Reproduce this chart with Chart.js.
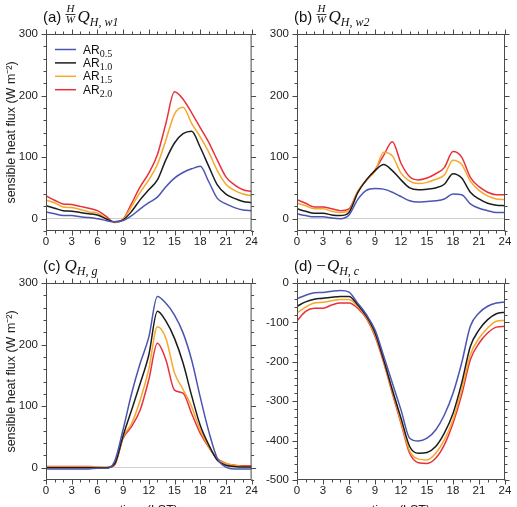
<!DOCTYPE html>
<html>
<head>
<meta charset="utf-8">
<script src="https://cdn.jsdelivr.net/npm/chart.js@4.4.0/dist/chart.umd.min.js"></script>
<style>
  html, body { margin: 0; padding: 0; background: #fff; overflow: hidden; }
  #wrap { position: relative; width: 517px; height: 507px; overflow: hidden; }
  canvas { position: absolute; }
</style>
</head>
<body>
<div id="wrap">
  <canvas id="pa" width="262" height="250" style="left:0;top:0"></canvas>
  <canvas id="pb" width="259" height="250" style="left:258px;top:0"></canvas>
  <canvas id="pc" width="262" height="268" style="left:0;top:250px"></canvas>
  <canvas id="pd" width="259" height="268" style="left:258px;top:250px"></canvas>
</div>
<script>
// local time, hours
const hours = [0,1,2,3,4,5,6,7,8,9,10,11,12,13,14,15,16,17,18,19,20,21,22,23,24];
const arNames = ['0.5', '1.0', '1.5', '2.0'];

// (a) H/W Q_H,w1
const w1AR05 = [11,8,5,5,3,2,0,-3,-5,-3,5,16,26,35,52,66,75,81,85,60,33,24,18,14,13];
const w1AR10 = [21,17,13,12,10,8,6,0,-5,-2,12,31,47,63,96,123,138,142,116,85,55,40,33,28,26];
const w1AR15 = [30,26,19,18,15,11,9,1,-6,-1,20,43,63,88,128,170,181,155,133,108,78,56,46,40,37];
const w1AR20 = [37,30,24,23,20,17,13,4,-6,-1,25,52,74,104,155,206,194,172,148,124,95,68,55,47,44];

// (b) H/W Q_H,w2
const w2AR05 = [8,5,3,3,1,0,6,31,46,49,48,43,36,29,27,28,29,32,40,39,24,17,13,10,10];
const w2AR10 = [16,12,9,9,6,5,10,42,63,78,88,78,63,50,47,48,50,56,73,66,43,32,25,22,21];
const w2AR15 = [25,21,16,16,12,10,13,44,63,77,108,102,74,61,57,59,64,71,95,88,61,46,37,32,31];
const w2AR20 = [31,25,19,19,16,13,16,44,62,79,103,125,90,68,63,66,73,83,109,100,67,52,43,39,39];

// (c) Q_H,g
const gAR05 = [-2,-2,-2,-2,-2,-2,-1,-1,10,62,121,170,212,278,267,248,219,175,115,59,15,1,-2,-2,-2];
const gAR10 = [0,0,0,0,0,0,0,0,6,52,94,137,183,254,238,210,170,117,69,37,12,4,2,1,1];
const gAR15 = [1,1,1,1,1,1,1,1,5,50,72,110,160,229,210,154,127,99,61,34,14,7,4,2,2];
const gAR20 = [2,2,2,2,2,2,1,0,4,48,67,94,143,202,175,126,121,88,56,33,15,7,4,3,3];

// (d) -Q_H,c
const cAR05 = [-40,-31,-25,-24,-21,-19,-23,-51,-80,-119,-185,-254,-322,-394,-401,-394,-373,-335,-280,-203,-110,-76,-59,-51,-48];
const cAR10 = [-59,-48,-41,-39,-36,-34,-34,-55,-84,-126,-195,-271,-343,-415,-432,-430,-415,-381,-331,-254,-161,-119,-93,-78,-74];
const cAR15 = [-76,-61,-51,-49,-45,-42,-42,-59,-87,-131,-199,-275,-352,-426,-447,-449,-432,-398,-347,-271,-182,-140,-114,-97,-95];
const cAR20 = [-96,-72,-64,-64,-56,-51,-51,-64,-90,-135,-202,-280,-356,-432,-456,-458,-445,-411,-356,-284,-195,-153,-127,-112,-110];

const lineColors = ['#4a55b0', '#1c1c1c', '#f7a829', '#e8313c'];
const sansFont = '"Liberation Sans", Arial, Helvetica, sans-serif';
const serifFont = '"Liberation Serif", "Times New Roman", serif';

function makeDatasets(series) {
  return series.map((vals, i) => ({
    label: 'AR' + arNames[i],
    sub: arNames[i],
    data: hours.map((h, k) => ({x: h, y: vals[k]})),
    borderColor: lineColors[i],
    borderWidth: 1.5,
    pointRadius: 0,
    fill: false,
    cubicInterpolationMode: 'monotone',
  }));
}

// box frame with outward ticks on all four sides
const frameTicks = {
  id: 'frameTicks',
  afterDraw(chart) {
    const {ctx, chartArea: a, scales: {x, y}} = chart;
    ctx.save();
    ctx.strokeStyle = '#4a4a4a';
    ctx.lineWidth = 1;
    const L = a.left + 0.5, R = a.right - 0.5, T = a.top + 0.5, B = a.bottom - 0.5;
    ctx.strokeRect(L, T, R - L, B - T);
    ctx.beginPath();
    for (let h = 0; h <= 24; h++) {
      const px = Math.round(x.getPixelForValue(h)) + 0.5;
      const len = h % 3 === 0 ? 5 : 3;
      ctx.moveTo(px, B); ctx.lineTo(px, B + len);
      ctx.moveTo(px, T); ctx.lineTo(px, T - len);
    }
    for (let v = y.min; v <= y.max; v += 20) {
      const py = Math.round(y.getPixelForValue(v)) + 0.5;
      const len = v % 100 === 0 ? 5 : 3;
      ctx.moveTo(L, py); ctx.lineTo(L - len, py);
      ctx.moveTo(R, py); ctx.lineTo(R + len, py);
    }
    ctx.stroke();
    ctx.restore();
  }
};

// panel titles like "(a) H/W Q_{H,w1}"
const panelTitle = {
  id: 'panelTitle',
  afterDraw(chart, args, opts) {
    if (!opts.tag) return;
    const {ctx, chartArea: a} = chart;
    const base = a.top - 12;
    let cx = a.left - 3;
    ctx.save();
    ctx.fillStyle = '#111';
    ctx.textBaseline = 'alphabetic';
    ctx.textAlign = 'left';
    ctx.font = '15px ' + sansFont;
    ctx.fillText(opts.tag, cx, base);
    cx += ctx.measureText(opts.tag).width + 4;
    if (opts.fracTop) {
      ctx.font = 'italic 11px ' + serifFont;
      const w = Math.max(ctx.measureText(opts.fracTop).width, ctx.measureText(opts.fracBot).width) + 1;
      ctx.textAlign = 'center';
      ctx.fillText(opts.fracTop, cx + w / 2, base - 10);
      ctx.fillText(opts.fracBot, cx + w / 2, base + 1);
      ctx.fillRect(cx, base - 8, w, 0.8);
      ctx.textAlign = 'left';
      cx += w + 2;
    }
    if (opts.prefix) {
      ctx.font = '17px ' + serifFont;
      ctx.fillText(opts.prefix, cx, base);
      cx += ctx.measureText(opts.prefix).width + 1;
    }
    ctx.font = 'italic 17px ' + serifFont;
    ctx.fillText(opts.main, cx, base);
    cx += ctx.measureText(opts.main).width;
    ctx.font = 'italic 12px ' + serifFont;
    ctx.fillText(opts.sub, cx, base + 4);
    ctx.restore();
  }
};

// legend with subscripts
const arLegend = {
  id: 'arLegend',
  afterDraw(chart, args, opts) {
    if (!opts.show) return;
    const {ctx, chartArea: a} = chart;
    ctx.save();
    chart.data.datasets.forEach((ds, i) => {
      const yy = a.top + 15.5 + i * 13.4;
      ctx.strokeStyle = ds.borderColor;
      ctx.lineWidth = 1.5;
      ctx.beginPath();
      ctx.moveTo(a.left + 9, yy);
      ctx.lineTo(a.left + 30, yy);
      ctx.stroke();
      ctx.fillStyle = '#111';
      ctx.textBaseline = 'alphabetic';
      ctx.font = '12px ' + sansFont;
      ctx.fillText('AR', a.left + 37, yy + 4);
      const w = ctx.measureText('AR').width;
      ctx.font = '10px ' + serifFont;
      ctx.fillText(ds.sub, a.left + 37 + w, yy + 7);
    });
    ctx.restore();
  }
};

function makeChart(id, series, o) {
  return new Chart(document.getElementById(id), {
    type: 'line',
    data: { datasets: makeDatasets(series) },
    plugins: [frameTicks, panelTitle, arLegend],
    options: {
      responsive: false,
      animation: false,
      layout: { padding: { left: 0, top: o.top, right: o.right, bottom: 0 } },
      scales: {
        x: {
          type: 'linear',
          min: 0,
          max: 24,
          afterFit: s => { s.height = o.xh; },
          grid: { display: false, drawTicks: false },
          border: { display: false },
          ticks: { stepSize: 3, padding: 4, color: '#222', font: { family: sansFont, size: 11.5 } },
          title: {
            display: !!o.xTitle,
            text: o.xTitle || '',
            color: '#222',
            font: { family: sansFont, size: 12.5 },
            padding: { top: 0, bottom: 0 },
          },
        },
        y: {
          min: o.ymin,
          max: o.ymax,
          afterFit: s => { s.width = o.yw; },
          grid: {
            drawTicks: false,
            color: c => (c.tick && c.tick.value === 0 && o.ymax > 0) ? '#cfcfcf' : 'rgba(0,0,0,0)',
          },
          border: { display: false },
          ticks: {
            stepSize: 100,
            includeBounds: false,
            padding: 8,
            color: '#222',
            font: { family: sansFont, size: 11.5 },
            callback: v => (v % 100 === 0 ? v : ''),
          },
          title: {
            display: !!o.yTitle,
            text: o.yTitle || '',
            color: '#222',
            font: { family: sansFont, size: 12.5 },
            padding: { top: 4, bottom: 0 },
          },
        },
      },
      plugins: {
        legend: { display: false },
        tooltip: { enabled: false },
        panelTitle: o.title,
        arLegend: { show: !!o.legend },
      },
    },
  });
}

const yLabel = 'sensible heat flux (W m\u207B\u00B2)';

makeChart('pa', [w1AR05, w1AR10, w1AR15, w1AR20], {
  top: 34, right: 9, xh: 19, yw: 46, ymin: -20, ymax: 300, yTitle: yLabel, legend: true,
  title: { tag: '(a)', fracTop: 'H', fracBot: 'W', main: 'Q', sub: 'H, w1' },
});
makeChart('pb', [w2AR05, w2AR10, w2AR15, w2AR20], {
  top: 34, right: 12, xh: 19, yw: 39, ymin: -20, ymax: 300,
  title: { tag: '(b)', fracTop: 'H', fracBot: 'W', main: 'Q', sub: 'H, w2' },
});
makeChart('pc', [gAR05, gAR10, gAR15, gAR20], {
  top: 33, right: 9, xh: 38, yw: 46, ymin: -20, ymax: 300, yTitle: yLabel, xTitle: 'time (LST)',
  title: { tag: '(c)', main: 'Q', sub: 'H, g' },
});
makeChart('pd', [cAR05, cAR10, cAR15, cAR20], {
  top: 33, right: 12, xh: 38, yw: 39, ymin: -500, ymax: 0, xTitle: 'time (LST)',
  title: { tag: '(d)', prefix: '\u2212', main: 'Q', sub: 'H, c' },
});
</script>
</body>
</html>
